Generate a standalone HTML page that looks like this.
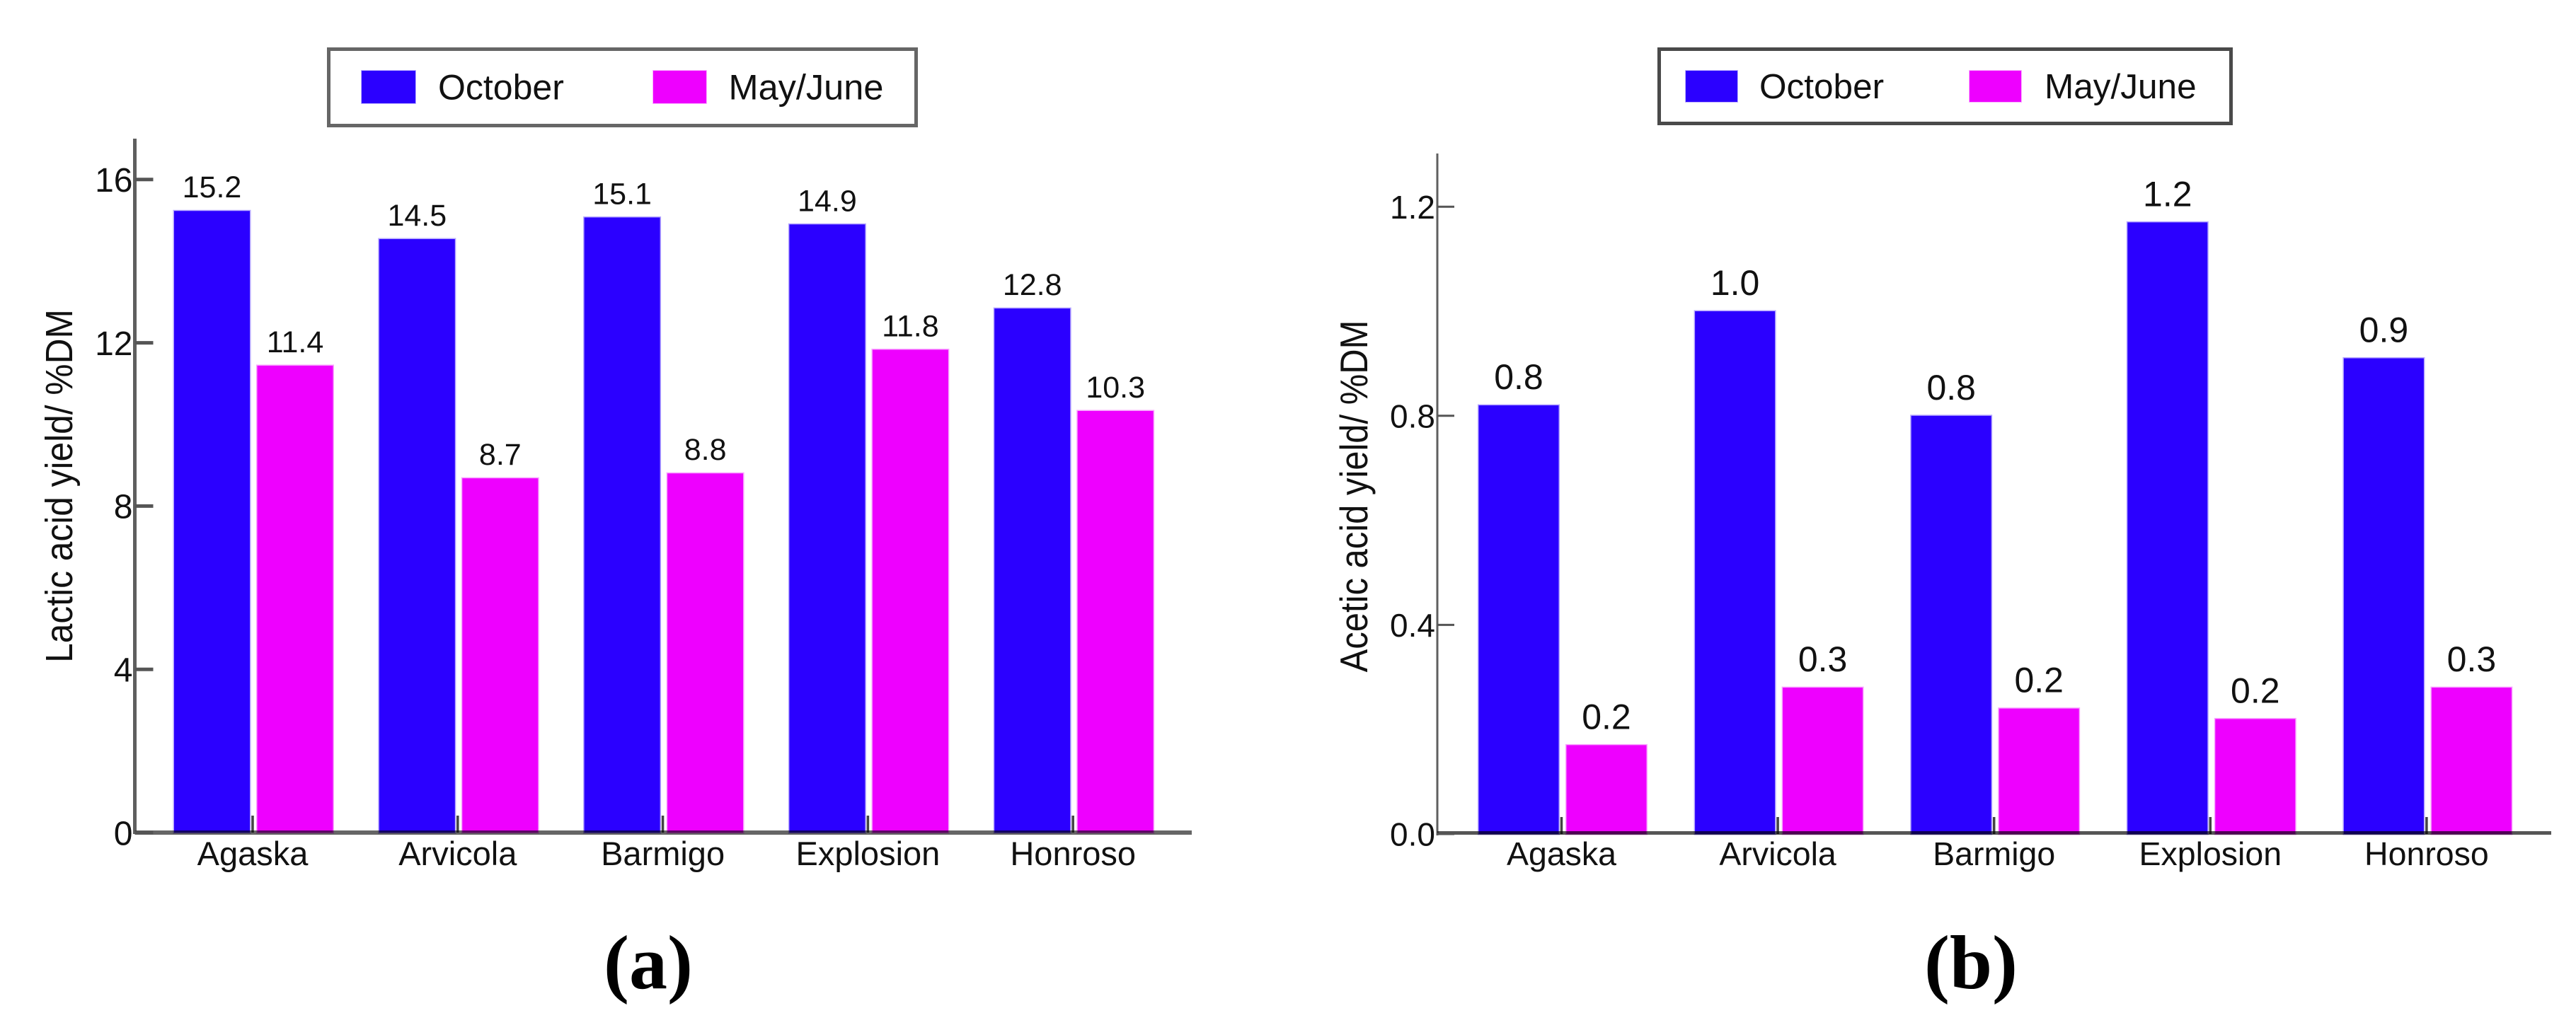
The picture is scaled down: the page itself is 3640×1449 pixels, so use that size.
<!DOCTYPE html>
<html lang="en">
<head>
<meta charset="utf-8">
<title>Lactic and acetic acid yield</title>
<style>
  html, body { margin: 0; padding: 0; background: #fff; }
  svg { display: block; font-family: "Liberation Sans", Arial, sans-serif; }
</style>
</head>
<body>
<svg id="figure" xmlns="http://www.w3.org/2000/svg" width="3640" height="1449" viewBox="0 0 3640 1449">
  <rect x="0" y="0" width="3640" height="1449" fill="#ffffff"/>

  <g>
    <rect x="464.5" y="69.5" width="830" height="108" fill="#fff" stroke="#666" stroke-width="5"/>
    <rect x="511" y="100" width="76" height="46" fill="#2b00ff" stroke="rgba(43,0,255,0.3)" stroke-width="2"/>
    <text x="619" y="140.5" font-size="50" fill="#111">October</text>
    <rect x="923" y="100" width="75" height="46" fill="#ee00ff" stroke="rgba(238,0,255,0.3)" stroke-width="2"/>
    <text x="1029.5" y="140.5" font-size="50.5" fill="#111">May/June</text>
  </g>
  <g>
    <rect x="2344.5" y="69.5" width="808" height="105" fill="#fff" stroke="#4a4a4a" stroke-width="5"/>
    <rect x="2382" y="100" width="73" height="44" fill="#2b00ff" stroke="rgba(43,0,255,0.3)" stroke-width="2"/>
    <text x="2486" y="139" font-size="49.5" fill="#111">October</text>
    <rect x="2783" y="100" width="73" height="44" fill="#ee00ff" stroke="rgba(238,0,255,0.3)" stroke-width="2"/>
    <text x="2889" y="139" font-size="49.5" fill="#111">May/June</text>
  </g>

  <text x="916" y="1397" text-anchor="middle" font-size="108" font-weight="bold" fill="#000" style="font-family:'Liberation Serif',serif">(a)</text>
  <text x="2785" y="1397" text-anchor="middle" font-size="108" font-weight="bold" fill="#000" style="font-family:'Liberation Serif',serif">(b)</text>
</svg>

<script>
const categories = ["Agaska", "Arvicola", "Barmigo", "Explosion", "Honroso"];
const lacticOctober = [15.23, 14.54, 15.07, 14.9, 12.84];
const lacticMayJune = [11.44, 8.68, 8.8, 11.83, 10.33];
const lacticTicks = ["0", "4", "8", "12", "16"];
const aceticOctober = [0.82, 1.0, 0.8, 1.17, 0.91];
const aceticMayJune = [0.17, 0.28, 0.24, 0.22, 0.28];
const aceticTicks = ["0.0", "0.4", "0.8", "1.2"];

const SVG_NS = "http://www.w3.org/2000/svg";
const figure = document.getElementById("figure");

function make(parent, tag, props, content) {
  const el = document.createElementNS(SVG_NS, tag);
  for (const key in props) el.setAttribute(key, props[key]);
  if (content !== undefined) el.textContent = content;
  parent.appendChild(el);
  return el;
}

function drawPanel(cfg) {
  const panel = make(figure, "g", {});
  
  

  const yScale = v => cfg.y0 - v * cfg.pxPerUnit;
  const groupX = i => cfg.firstX + i * cfg.period;

  categories.forEach((cat, i) => {
    const blueX = groupX(i);
    const pinkX = blueX + cfg.pinkOffset;

    const blueBar = make(panel, "rect", {
      x: blueX, y: yScale(cfg.october[i]), width: cfg.barW,
      height: cfg.y0 - yScale(cfg.october[i]),
      fill: "#2b00ff", stroke: "rgba(43,0,255,0.35)", "stroke-width": 3
    });
    
    

    const pinkBar = make(panel, "rect", {
      x: pinkX, y: yScale(cfg.mayJune[i]), width: cfg.barW,
      height: cfg.y0 - yScale(cfg.mayJune[i]),
      fill: "#ee00ff", stroke: "rgba(238,0,255,0.35)", "stroke-width": 3
    });
    
    

    const blueValue = make(panel, "text", {
      x: blueX + cfg.barW / 2, y: yScale(cfg.october[i]) - cfg.labelGap,
      "text-anchor": "middle", "font-size": cfg.valueFont, fill: "#111"
    }, cfg.october[i].toFixed(1));
    
    

    const pinkValue = make(panel, "text", {
      x: pinkX + cfg.barW / 2, y: yScale(cfg.mayJune[i]) - cfg.labelGap,
      "text-anchor": "middle", "font-size": cfg.valueFont, fill: "#111"
    }, cfg.mayJune[i].toFixed(1));
    
    

    const tickX = blueX + cfg.tickOffset;
    const xTick = make(panel, "line", {
      x1: tickX, x2: tickX, y1: cfg.y0, y2: cfg.y0 - 24,
      stroke: "#444", "stroke-width": 3.5
    });
    
    

    const catLabel = make(panel, "text", {
      x: tickX, y: 1223, "text-anchor": "middle",
      "font-size": cfg.catFont, fill: "#111"
    }, cat);
    
    
  });

  const yAxis = make(panel, "line", {
    x1: cfg.axisX, x2: cfg.axisX, y1: cfg.axisTop, y2: cfg.y0 + 2,
    stroke: "#5f5f5f", "stroke-width": cfg.axisW
  });
  
  

  const xAxis = make(panel, "line", {
    x1: cfg.axisX, x2: cfg.axisRight, y1: cfg.xAxisY, y2: cfg.xAxisY,
    stroke: cfg.xAxisColor, "stroke-width": cfg.xAxisW,
    style: "mix-blend-mode:multiply"
  });
  
  

  cfg.ticks.forEach(t => {
    const ty = yScale(parseFloat(t));
    const yTick = make(panel, "line", {
      x1: cfg.axisX, x2: cfg.axisX + cfg.tickLen, y1: ty, y2: ty,
      stroke: "#555", "stroke-width": cfg.tickW
    });
    
    

    const yLabel = make(panel, "text", {
      x: cfg.axisX - 3, y: ty + cfg.tickFont * 0.36, "text-anchor": "end",
      "font-size": cfg.tickFont, fill: "#111"
    }, t);
    
    
  });

  const title = make(panel, "text", {
    transform: "translate(" + cfg.titleX + "," + cfg.titleY + ") rotate(-90) scale(" + cfg.titleSqueeze + ",1)",
    "text-anchor": "middle", "font-size": cfg.titleFont, fill: "#111"
  }, cfg.title);
  
  
}

drawPanel({
  name: "chart-lactic-acid",
  october: lacticOctober, mayJune: lacticMayJune, ticks: lacticTicks,
  title: "Lactic acid yield/ %DM",
  y0: 1177, pxPerUnit: 57.7, firstX: 246, period: 289.8,
  barW: 107, pinkOffset: 117.5, tickOffset: 111,
  axisX: 190.5, axisTop: 196, axisRight: 1684, axisW: 5, tickLen: 26, tickW: 5,
  xAxisY: 1177, xAxisW: 6, xAxisColor: "#666",
  labelGap: 19, valueFont: 43, catFont: 47, tickFont: 48,
  titleX: 102, titleY: 687, titleFont: 54, titleSqueeze: 0.92
});

drawPanel({
  name: "chart-acetic-acid",
  october: aceticOctober, mayJune: aceticMayJune, ticks: aceticTicks,
  title: "Acetic acid yield/ %DM",
  y0: 1179, pxPerUnit: 739, firstX: 2089.5, period: 305.6,
  barW: 113, pinkOffset: 124, tickOffset: 117,
  axisX: 2031, axisTop: 217, axisRight: 3605, axisW: 3, tickLen: 24, tickW: 3,
  xAxisY: 1177.5, xAxisW: 5, xAxisColor: "#555",
  labelGap: 23, valueFont: 50, catFont: 46.5, tickFont: 46,
  titleX: 1932, titleY: 701.5, titleFont: 55, titleSqueeze: 0.89
});
</script>
</body>
</html>
